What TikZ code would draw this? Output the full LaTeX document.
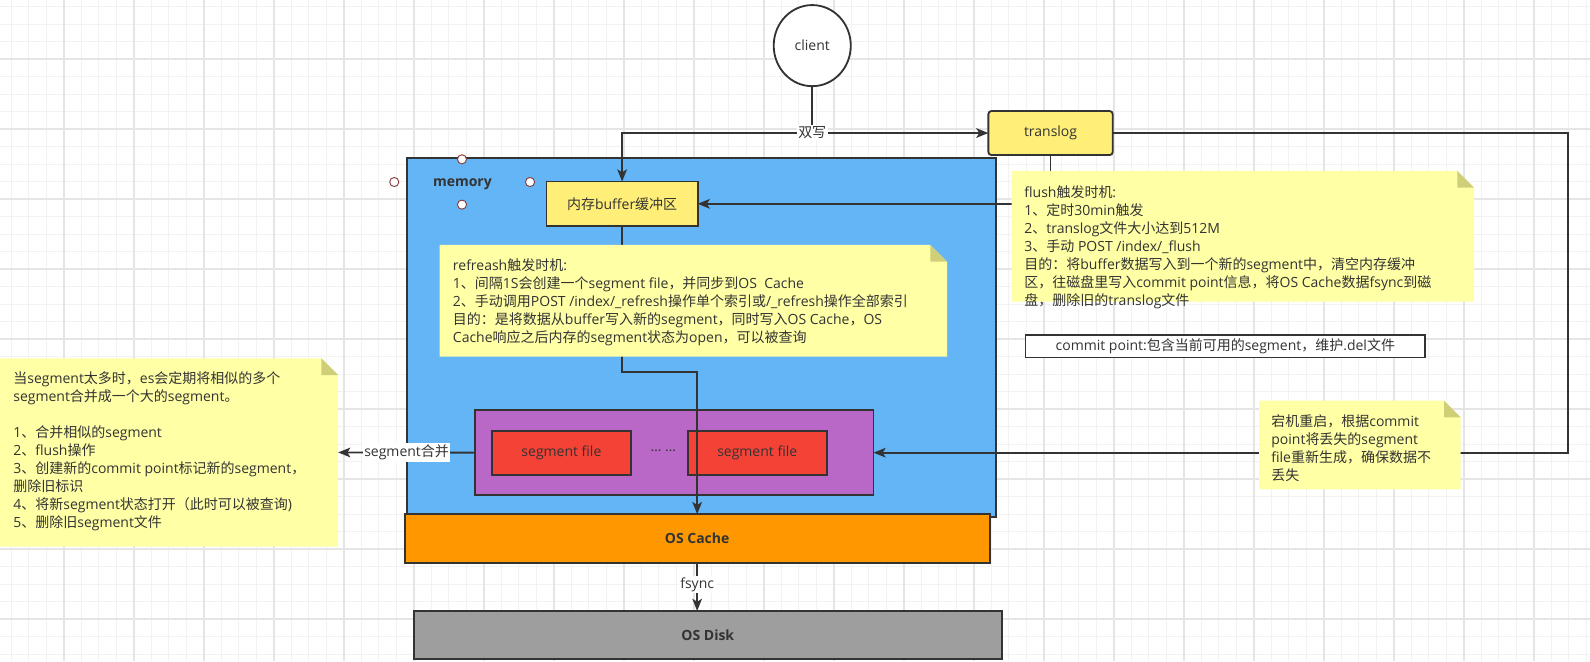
\documentclass[tikz,border=0pt]{standalone}
\usepackage{fontspec}
\setmainfont{Open Sans}
\newfontfamily\cjkfont{Noto Sans CJK SC}
% switch to the CJK family for ideographs and full-width punctuation
\newXeTeXintercharclass\cjkclass
\newcount\cjkcount
\def\setcjkrange#1#2{\cjkcount=#1\relax
  \loop \XeTeXcharclass\cjkcount=\cjkclass
  \ifnum\cjkcount<#2\relax \advance\cjkcount by 1 \repeat}
\setcjkrange{"3000}{"303F}
\setcjkrange{"4E00}{"9FFF}
\setcjkrange{"FF00}{"FFEF}
\XeTeXinterchartoks 0 \cjkclass = {\cjkfont}
\XeTeXinterchartoks 4095 \cjkclass = {\cjkfont}
\XeTeXinterchartoks \cjkclass 0 = {\rmfamily}
\XeTeXinterchartoks \cjkclass 4095 = {\rmfamily}
\XeTeXinterchartokenstate=1

\usetikzlibrary{arrows.meta,shapes.geometric}

\definecolor{ink}{HTML}{333333}
\definecolor{memblue}{HTML}{64B5F6}
\definecolor{bufyellow}{HTML}{FFEE78}
\definecolor{segpurple}{HTML}{B968C7}
\definecolor{segred}{HTML}{F44336}
\definecolor{cacheorange}{HTML}{FF9800}
\definecolor{diskgray}{HTML}{9E9E9E}
\definecolor{notefill}{HTML}{FFFFA6}
\definecolor{notefold}{HTML}{CFCF7A}
\definecolor{gridminor}{HTML}{F2F2F2}
\definecolor{gridmajor}{HTML}{E5E5E5}
\definecolor{handlered}{HTML}{8A3A3A}

\pgfdeclarelayer{edges}
\pgfdeclarelayer{notes}
\pgfsetlayers{main,edges,notes}

\tikzset{
  txt/.style={font=\fontsize{13.8}{17.75}\selectfont, text=ink},
  box/.style={txt, draw=ink, line width=1.8pt, inner sep=0pt, outer sep=0pt, anchor=north west},
  boldtxt/.style={txt, font=\fontsize{13.8}{17.75}\selectfont\bfseries},
  handle/.style={circle, draw=handlered, fill=white, line width=0.9pt, minimum size=9pt, inner sep=0pt},
  wire/.style={draw=ink, line width=1.8pt},
  arrowline/.style={wire, -{Stealth[length=12pt,width=9.5pt,inset=3pt]}},
  edgelabel/.style={txt, fill=white, inner sep=1.5pt},
  notebox/.style={inner sep=0pt, outer sep=0pt, anchor=north west,
    path picture={
      \fill[notefill] (path picture bounding box.north west)
        -- ([xshift=-16.5pt]path picture bounding box.north east)
        -- ([yshift=-16.5pt]path picture bounding box.north east)
        -- (path picture bounding box.south east)
        -- (path picture bounding box.south west) -- cycle;
      \fill[notefold] ([xshift=-16.5pt]path picture bounding box.north east)
        -- ([xshift=-16.5pt,yshift=-16.5pt]path picture bounding box.north east)
        -- ([yshift=-16.5pt]path picture bounding box.north east) -- cycle;
    }},
  notetext/.style={txt, anchor=north west, align=left, inner sep=0pt},
}

\begin{document}
\begin{tikzpicture}[x=1pt,y=-1pt]
\useasboundingbox (0,0) rectangle (1568,652);
\fill[white] (0,0) rectangle (1568,652);

% background grid
\begin{scope}
  \clip (0,0) rectangle (1568,652);
  \foreach \k in {-4,...,87} {
    \pgfmathsetmacro\xx{63.1+17.2575*\k}
    \draw[gridminor, line width=1pt] (\xx,0) -- (\xx,652);
  }
  \foreach \k in {-4,...,35} {
    \pgfmathsetmacro\yy{58.2+17.2575*\k}
    \draw[gridminor, line width=1pt] (0,\yy) -- (1568,\yy);
  }
  \foreach \k in {-1,...,22} {
    \pgfmathsetmacro\xx{63.1+69.03*\k}
    \draw[gridmajor, line width=1.2pt] (\xx,0) -- (\xx,652);
  }
  \foreach \k in {-1,...,9} {
    \pgfmathsetmacro\yy{58.2+69.03*\k}
    \draw[gridmajor, line width=1.2pt] (0,\yy) -- (1568,\yy);
  }
\end{scope}

% storage blocks
\node[box, fill=memblue, minimum width=581pt, minimum height=353.4pt] (memory) at (401,156.2) {};
\node[boldtxt] (memlabel) at (456,181.5) {memory};
\node[handle] (h1) at (455.6,157.1) {};
\node[handle] (h2) at (388.8,179.5) {};
\node[handle] (h3) at (522.7,179.5) {};
\node[handle] (h4) at (455.6,201.8) {};

\node[box, fill=bufyellow, minimum width=149pt, minimum height=44pt] (buffer) at (539,179) {内存buffer缓冲区};

\node[box, fill=segpurple, minimum width=393pt, minimum height=84.2pt] (purple) at (468.4,404.3) {};
\node[box, fill=segred, minimum width=137.3pt, minimum height=44pt] (seg1) at (485,424.7) {segment file};
\node[box, fill=segred, minimum width=137.1pt, minimum height=44pt] (seg2) at (678.2,424.7) {segment file};
\node[txt] (dots) at (654.2,445) {… …};

\node[box, fill=cacheorange, minimum width=577pt, minimum height=48.5pt, font=\fontsize{13.8}{17.75}\selectfont\bfseries] (oscache) at (399,507) {OS Cache};
\node[box, fill=diskgray, minimum width=580pt, minimum height=47.5pt, font=\fontsize{13.8}{17.75}\selectfont\bfseries] (osdisk) at (408,602.5) {OS Disk};

\node[box, fill=bufyellow, rounded corners=3pt, minimum width=122.6pt, minimum height=43.4pt] (translog) at (974.7,109.5) {translog};
\node[txt, ellipse, draw=ink, line width=1.8pt, fill=white, minimum width=76pt, minimum height=80pt, inner sep=0pt] (client) at (801,45) {client};

\node[box, fill=white, line width=1.5pt, minimum width=393.8pt, minimum height=22pt, anchor=north west] (commit) at (1011.5,330.4) {commit point:包含当前可用的segment，维护.del文件};

% sticky notes
\begin{pgfonlayer}{notes}
\node[notebox, minimum width=455.9pt, minimum height=128.9pt] (flushnote) at (997.7,168.6) {};
\node[notetext] (flushtext) at (1010,181.8) {\rule{0pt}{12.5pt}flush触发时机:\\
1、定时30min触发\\
2、translog文件大小达到512M\\
3、手动 POST /index/\_flush\\
目的：将buffer数据写入到一个新的segment中，清空内存缓冲\\
区，往磁盘里写入commit point信息，将OS Cache数据fsync到磁\\
盘，删除旧的translog文件};

\node[notebox, minimum width=500.5pt, minimum height=110.1pt] (refreshnote) at (433.5,241.6) {};
\node[notetext] (refreshtext) at (446.5,253.6) {\rule{0pt}{12.5pt}refreash触发时机:\\
1、间隔1S会创建一个segment file，并同步到OS\ \ Cache\\
2、手动调用POST /index/\_refresh操作单个索引或/\_refresh操作全部索引\\
目的：是将数据从buffer写入新的segment，同时写入OS Cache，OS\\
Cache响应之后内存的segment状态为open，可以被查询};

\node[notebox, minimum width=333.5pt, minimum height=185.6pt] (leftnote) at (0,353.4) {};
\node[notetext] (lefttext) at (13,365.3) {\rule{0pt}{12.5pt}当segment太多时，es会定期将相似的多个\\
segment合并成一个大的segment。\\
\mbox{}\\
1、合并相似的segment\\
2、flush操作\\
3、创建新的commit point标记新的segment，\\
删除旧标识\\
4、将新segment状态打开（此时可以被查询)\\
5、删除旧segment文件};

\node[notebox, minimum width=198.9pt, minimum height=87.4pt] (crashnote) at (1241.6,395.2) {};
\node[notetext] (crashtext) at (1253.6,408.1) {\rule{0pt}{12.5pt}宕机重启，根据commit\\
point将丢失的segment\\
file重新生成，确保数据不\\
丢失};
\end{pgfonlayer}

% connectors
\begin{pgfonlayer}{edges}
\coordinate (dual) at (801,131.2);
\draw[wire] (client.south) -- (dual);
\draw[arrowline] (dual) -- (translog.west);
\draw[arrowline] (dual) -| (buffer.north);
\node[edgelabel] (duallabel) at (dual) {双写};

\draw[arrowline] (translog.south) |- (buffer.east);
\draw[arrowline] (translog.east) -- ++(448.7,0) |- (purple.east);

\draw[arrowline] (buffer.south) -- ++(0,144) -| (oscache.north);

\draw[arrowline] (purple.west) -- node[edgelabel] (mergelabel) {segment合并} (leftnote.east);

\draw[arrowline] (oscache.south) -- node[edgelabel, pos=0.45] (fsynclabel) {fsync} (oscache.south |- osdisk.north);
\end{pgfonlayer}
\end{tikzpicture}
\end{document}
